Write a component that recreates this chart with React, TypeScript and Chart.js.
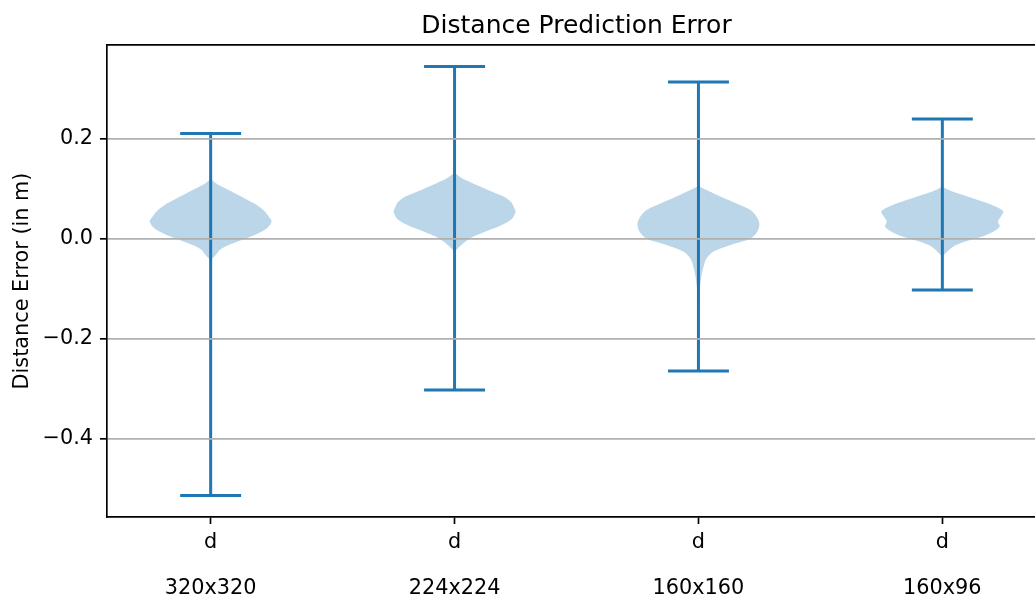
import { useEffect, useRef } from 'react';
import { Chart, registerables } from 'chart.js';

Chart.register(...registerables);

// ---- data ----
const categories = ['320x320', '224x224', '160x160', '160x96'];
const tickTop = 'd';
const positions = [1, 2, 3, 4];
const whiskerMax = [0.211, 0.345, 0.314, 0.24];
const whiskerMin = [-0.513, -0.302, -0.264, -0.102];
const yTicks = [-0.4, -0.2, 0, 0.2];
const yTickLabels = ['\u22120.4', '\u22120.2', '0.0', '0.2'];

// violin profiles: y values and half-widths (x units)
const v1Y = [0.122, 0.115, 0.108, 0.095, 0.081, 0.068, 0.055, 0.045, 0.035, 0.021, 0.008, -0.002, -0.012, -0.022, -0.032, -0.042];
const v1W = [0, 0.012, 0.033, 0.086, 0.14, 0.189, 0.222, 0.238, 0.25, 0.23, 0.181, 0.127, 0.074, 0.037, 0.021, 0];

const v2Y = [0.132, 0.121, 0.108, 0.095, 0.085, 0.075, 0.065, 0.055, 0.045, 0.038, 0.025, 0.015, 0.005, -0.005, -0.015, -0.025];
const v2W = [0, 0.033, 0.09, 0.152, 0.201, 0.23, 0.242, 0.25, 0.242, 0.23, 0.181, 0.127, 0.078, 0.045, 0.021, 0];

const v3Y = [0.106, 0.098, 0.085, 0.071, 0.058, 0.045, 0.031, 0.015, 0.001, -0.012, -0.025, -0.039, -0.055, -0.075, -0.102, -0.13];
const v3W = [0, 0.033, 0.09, 0.156, 0.213, 0.238, 0.25, 0.242, 0.213, 0.131, 0.062, 0.033, 0.021, 0.012, 0.005, 0];

const v4Y = [0.104, 0.095, 0.085, 0.075, 0.065, 0.055, 0.045, 0.035, 0.025, 0.015, 0.005, -0.005, -0.015, -0.025, -0.035];
const v4W = [0, 0.041, 0.103, 0.164, 0.218, 0.25, 0.24, 0.228, 0.235, 0.21, 0.164, 0.094, 0.045, 0.021, 0];

const profilesY = [v1Y, v2Y, v3Y, v4Y];
const profilesW = [v1W, v2W, v3W, v4W];

const BLUE = '#1f77b4';
const FILL = 'rgba(31,119,180,0.3)';
const FONT = "'DejaVu Sans', 'Liberation Sans', sans-serif";

function bodyPoints(pos: number, ys: number[], ws: number[]) {
  const right = ys.map((y, i) => ({ x: pos + ws[i], y }));
  const left = ys.map((y, i) => ({ x: pos - ws[i], y })).reverse();
  return [...right, ...left];
}

export default function App() {
  const ref = useRef<HTMLCanvasElement | null>(null);

  useEffect(() => {
    if (!ref.current) return;
    Chart.defaults.font.family = FONT;
    Chart.defaults.color = '#000';

    const bodies = positions.map((p, i) => ({
      type: 'line' as const,
      data: bodyPoints(p, profilesY[i], profilesW[i]),
      fill: 'shape',
      backgroundColor: FILL,
      borderColor: 'rgba(0,0,0,0)',
      borderWidth: 0,
      pointRadius: 0,
      tension: 0.3,
    }));

    const whiskers: any[] = [];
    const capsTop: any[] = [];
    const capsBottom: any[] = [];
    positions.forEach((p, i) => {
      whiskers.push({ x: p, y: whiskerMin[i] }, { x: p, y: whiskerMax[i] }, { x: p, y: null });
      capsTop.push({ x: p - 0.125, y: whiskerMax[i] }, { x: p + 0.125, y: whiskerMax[i] }, { x: p, y: null });
      capsBottom.push({ x: p - 0.125, y: whiskerMin[i] }, { x: p + 0.125, y: whiskerMin[i] }, { x: p, y: null });
    });
    const lineDs = (data: any[]) => ({
      type: 'line' as const,
      data,
      fill: false,
      borderColor: BLUE,
      borderWidth: 3,
      pointRadius: 0,
      tension: 0,
      spanGaps: false,
    });

    const chart = new Chart(ref.current, {
      type: 'line',
      data: {
        datasets: [...bodies, lineDs(whiskers), lineDs(capsTop), lineDs(capsBottom)] as any,
      },
      options: {
        animation: false,
        responsive: false,
        maintainAspectRatio: false,
        devicePixelRatio: 1,
        events: [],
        layout: { padding: { left: 0, right: 14, top: 0, bottom: 0 } },
        plugins: {
          legend: { display: false },
          tooltip: { enabled: false },
          title: {
            display: true,
            text: 'Distance Prediction Error',
            font: { size: 25, weight: 'normal' as any, family: FONT },
            color: '#000',
            padding: { top: 11, bottom: 4 },
            fullSize: false,
          },
        },
        scales: {
          x: {
            type: 'linear',
            min: 0.575,
            max: 4.425,
            afterBuildTicks: (s: any) => {
              s.ticks = positions.map((v) => ({ value: v }));
            },
            afterFit: (s: any) => {
              s.height = 83;
            },
            ticks: {
              autoSkip: false,
              maxRotation: 0,
              padding: 7.5,
              color: '#000',
              font: { size: 20.8, lineHeight: '23px' as any, family: FONT },
              callback: (v: any) => {
                const i = positions.indexOf(Number(v));
                return [tickTop, '', categories[i]];
              },
            },
            grid: {
              display: true,
              drawOnChartArea: false,
              drawTicks: true,
              tickLength: 7,
              tickColor: '#000',
              tickWidth: 1.67,
            },
            border: { display: true, color: '#000', width: 1.67 },
          },
          xTop: {
            type: 'linear',
            position: 'top',
            min: 0.575,
            max: 4.425,
            afterBuildTicks: (s: any) => {
              s.ticks = [{ value: 1 }];
            },
            afterFit: (s: any) => {
              s.height = 0;
            },
            ticks: { display: false },
            grid: { display: true, drawOnChartArea: false, drawTicks: false },
            border: { display: true, color: '#000', width: 1.67 },
          },
          y: {
            type: 'linear',
            min: -0.556,
            max: 0.388,
            afterBuildTicks: (s: any) => {
              s.ticks = yTicks.map((v) => ({ value: v }));
            },
            afterFit: (s: any) => {
              s.width = 107;
            },
            ticks: {
              padding: 7,
              color: '#000',
              font: { size: 20.8, family: FONT },
              callback: (v: any) => yTickLabels[yTicks.indexOf(Number(v))],
            },
            grid: {
              color: '#b0b0b0',
              lineWidth: 1.67,
              tickLength: 7,
              tickColor: '#000',
              tickWidth: 1.67,
              z: 1,
            },
            border: { display: true, color: '#000', width: 1.67, z: 2 },
            title: {
              display: true,
              text: 'Distance Error (in m)',
              color: '#000',
              font: { size: 20.8, family: FONT },
              padding: { top: 10, bottom: 0 },
            },
          },
        } as any,
      },
    });
    return () => chart.destroy();
  }, []);

  return (
    <div
      style={{
        position: 'fixed',
        left: 0,
        top: 0,
        width: 1035,
        height: 600,
        overflow: 'hidden',
        background: '#fff',
      }}
    >
      <canvas ref={ref} width={1060} height={600} style={{ display: 'block', width: 1060, height: 600 }} />
    </div>
  );
}
